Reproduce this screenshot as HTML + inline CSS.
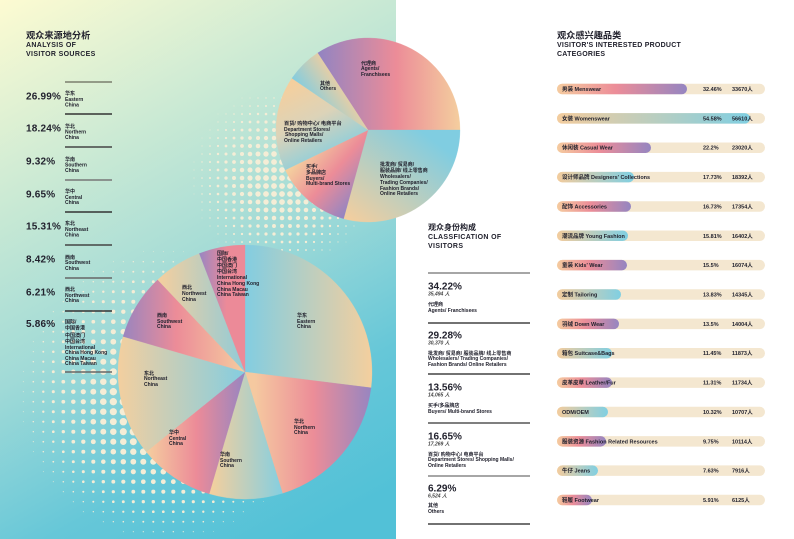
<!DOCTYPE html>
<html>
<head>
<meta charset="utf-8">
<style>
html,body{margin:0;padding:0;background:#fff;}
body{width:794px;height:539px;overflow:hidden;position:relative;}
svg{position:absolute;left:0;top:0;}
text{font-family:"Liberation Sans","Noto Sans CJK SC",sans-serif;font-weight:700;fill:#22222e;}
.t9{font-size:9.2px;}
.t8{font-size:8px;}
.sub{font-size:7px;letter-spacing:0.35px;}
.pct{font-size:10px;letter-spacing:0.2px;}
.mp{font-size:10px;}
.l5{font-size:5px;}
.l52{font-size:5.2px;}
.cnt{font-size:5px;font-style:italic;fill:#444;}
.b55{font-size:5.5px;}
</style>
</head>
<body>
<svg width="794" height="539" viewBox="0 0 794 539" xmlns="http://www.w3.org/2000/svg">
<defs>
  <linearGradient id="bg" gradientUnits="userSpaceOnUse" x1="0" y1="0" x2="300" y2="539">
    <stop offset="0" stop-color="#fdfbd2"/>
    <stop offset="0.3" stop-color="#c9e9d4"/>
    <stop offset="0.55" stop-color="#a0dad7"/>
    <stop offset="0.8" stop-color="#66c7d8"/>
    <stop offset="1" stop-color="#52c1d7"/>
  </linearGradient>
  <linearGradient id="gE" gradientUnits="userSpaceOnUse" x1="245" y1="0" x2="372" y2="0">
    <stop offset="0" stop-color="#82cde1"/><stop offset="1" stop-color="#f4cf9e"/>
  </linearGradient>
  <linearGradient id="gN" gradientUnits="userSpaceOnUse" x1="255" y1="0" x2="372" y2="0">
    <stop offset="0" stop-color="#f5c9a0"/><stop offset="0.5" stop-color="#ec8d98"/><stop offset="1" stop-color="#9685c1"/>
  </linearGradient>
  <linearGradient id="gS" gradientUnits="userSpaceOnUse" x1="212" y1="0" x2="282" y2="0">
    <stop offset="0" stop-color="#f2cf9e"/><stop offset="1" stop-color="#86cfe0"/>
  </linearGradient>
  <linearGradient id="gC" gradientUnits="userSpaceOnUse" x1="148" y1="0" x2="245" y2="0">
    <stop offset="0" stop-color="#f5cc9f"/><stop offset="0.5" stop-color="#ec8b98"/><stop offset="1" stop-color="#9785c1"/>
  </linearGradient>
  <linearGradient id="gNE" gradientUnits="userSpaceOnUse" x1="118" y1="0" x2="245" y2="0">
    <stop offset="0" stop-color="#f3cf9f"/><stop offset="1" stop-color="#84cde0"/>
  </linearGradient>
  <linearGradient id="gSW" gradientUnits="userSpaceOnUse" x1="120" y1="0" x2="245" y2="0">
    <stop offset="0" stop-color="#9584c1"/><stop offset="0.45" stop-color="#ec8c98"/><stop offset="1" stop-color="#f5cc9f"/>
  </linearGradient>
  <linearGradient id="gNW" gradientUnits="userSpaceOnUse" x1="160" y1="0" x2="245" y2="0">
    <stop offset="0" stop-color="#f3cf9f"/><stop offset="1" stop-color="#90cbd8"/>
  </linearGradient>
  <linearGradient id="gI" gradientUnits="userSpaceOnUse" x1="199" y1="0" x2="245" y2="0">
    <stop offset="0" stop-color="#9886c2"/><stop offset="0.6" stop-color="#ec8a98"/><stop offset="1" stop-color="#ec8a98"/>
  </linearGradient>
  <linearGradient id="gA" gradientUnits="userSpaceOnUse" x1="318" y1="0" x2="460" y2="0">
    <stop offset="0" stop-color="#9284c2"/><stop offset="0.55" stop-color="#ec8c98"/><stop offset="1" stop-color="#f4ce9e"/>
  </linearGradient>
  <linearGradient id="gW" gradientUnits="userSpaceOnUse" x1="420" y1="130" x2="350" y2="222">
    <stop offset="0" stop-color="#80cde1"/><stop offset="1" stop-color="#f4ce9e"/>
  </linearGradient>
  <linearGradient id="gB" gradientUnits="userSpaceOnUse" x1="290" y1="168" x2="345" y2="215">
    <stop offset="0" stop-color="#f4cf9e"/><stop offset="0.5" stop-color="#ec8c98"/><stop offset="1" stop-color="#9585c1"/>
  </linearGradient>
  <linearGradient id="gD" gradientUnits="userSpaceOnUse" x1="290" y1="85" x2="330" y2="165">
    <stop offset="0" stop-color="#f4cf9e"/><stop offset="0.45" stop-color="#dcd3b8"/><stop offset="1" stop-color="#80cde1"/>
  </linearGradient>
  <linearGradient id="gO" gradientUnits="userSpaceOnUse" x1="300" y1="92" x2="335" y2="68">
    <stop offset="0" stop-color="#80cde1"/><stop offset="1" stop-color="#f4ce9e"/>
  </linearGradient>
  <linearGradient id="bOdd" x1="0" y1="0" x2="1" y2="0">
    <stop offset="0" stop-color="#f5cb9f"/><stop offset="0.45" stop-color="#ec8d98"/><stop offset="1" stop-color="#9585c1"/>
  </linearGradient>
  <linearGradient id="bEven" x1="0" y1="0" x2="1" y2="0">
    <stop offset="0" stop-color="#f3cc9d"/><stop offset="1" stop-color="#80cfe2"/>
  </linearGradient>
</defs>

<rect x="0" y="0" width="396" height="539" fill="url(#bg)"/>

<g id="dots" fill="#f5edd6"></g>

<g stroke-width="0.3">
  <path d="M368,130 L317.6,53 A92,92 0 0 1 460,130 Z" fill="url(#gA)" stroke="url(#gA)"/>
  <path d="M368,130 L460,130 A92,92 0 0 1 343.6,218.7 Z" fill="url(#gW)" stroke="url(#gW)"/>
  <path d="M368,130 L343.6,218.7 A92,92 0 0 1 285.2,170 Z" fill="url(#gB)" stroke="url(#gB)"/>
  <path d="M368,130 L285.2,170 A92,92 0 0 1 291.9,78.3 Z" fill="url(#gD)" stroke="url(#gD)"/>
  <path d="M368,130 L291.9,78.3 A92,92 0 0 1 317.6,53 Z" fill="url(#gO)" stroke="url(#gO)"/>
</g>

<g stroke-width="0.3">
  <path d="M245,372 L245,245 A127,127 0 0 1 371,387.8 Z" fill="url(#gE)" stroke="url(#gE)"/>
  <path d="M245,372 L371,387.8 A127,127 0 0 1 282.5,493.3 Z" fill="url(#gN)" stroke="url(#gN)"/>
  <path d="M245,372 L282.5,493.3 A127,127 0 0 1 209.2,493.8 Z" fill="url(#gS)" stroke="url(#gS)"/>
  <path d="M245,372 L209.2,493.8 A127,127 0 0 1 146.2,451.8 Z" fill="url(#gC)" stroke="url(#gC)"/>
  <path d="M245,372 L146.2,451.8 A127,127 0 0 1 123.1,336.5 Z" fill="url(#gNE)" stroke="url(#gNE)"/>
  <path d="M245,372 L123.1,336.5 A127,127 0 0 1 157.7,279.8 Z" fill="url(#gSW)" stroke="url(#gSW)"/>
  <path d="M245,372 L157.7,279.8 A127,127 0 0 1 199.3,253.5 Z" fill="url(#gNW)" stroke="url(#gNW)"/>
  <path d="M245,372 L199.3,253.5 A127,127 0 0 1 245,245 Z" fill="url(#gI)" stroke="url(#gI)"/>
</g>

<text class="t9" x="26" y="38.5">观众来源地分析</text>
<text class="sub" x="26" y="46.8">ANALYSIS OF</text>
<text class="sub" x="26" y="55.8">VISITOR SOURCES</text>

<g stroke-width="1.5">
  <line x1="65" y1="82" x2="112" y2="82" stroke="#7b7f6e"/>
  <line x1="65" y1="114" x2="112" y2="114" stroke="#333"/>
  <line x1="65" y1="147" x2="112" y2="147" stroke="#444"/>
  <line x1="65" y1="180" x2="112" y2="180" stroke="#777"/>
  <line x1="65" y1="212" x2="112" y2="212" stroke="#333"/>
  <line x1="65" y1="245" x2="112" y2="245" stroke="#444"/>
  <line x1="65" y1="278" x2="112" y2="278" stroke="#666"/>
  <line x1="65" y1="311" x2="112" y2="311" stroke="#333"/>
  <line x1="65" y1="372" x2="112" y2="372" stroke="#666"/>
</g>

<text class="pct" x="26" y="99.6">26.99%</text>
<text class="l5" x="65" y="94.8">华东</text>
<text class="l5" x="65" y="100.8">Eastern</text>
<text class="l5" x="65" y="106.3">China</text>

<text class="pct" x="26" y="131.6">18.24%</text>
<text class="l5" x="65" y="127.8">华北</text>
<text class="l5" x="65" y="133.3">Northern</text>
<text class="l5" x="65" y="138.8">China</text>

<text class="pct" x="26" y="164.6">9.32%</text>
<text class="l5" x="65" y="160.8">华南</text>
<text class="l5" x="65" y="166.3">Southern</text>
<text class="l5" x="65" y="171.8">China</text>

<text class="pct" x="26" y="197.6">9.65%</text>
<text class="l5" x="65" y="192.8">华中</text>
<text class="l5" x="65" y="198.8">Central</text>
<text class="l5" x="65" y="204">China</text>

<text class="pct" x="26" y="229.6">15.31%</text>
<text class="l5" x="65" y="224.8">东北</text>
<text class="l5" x="65" y="230.8">Northeast</text>
<text class="l5" x="65" y="236.5">China</text>

<text class="pct" x="26" y="262.6">8.42%</text>
<text class="l5" x="65" y="258.8">西南</text>
<text class="l5" x="65" y="264">Southwest</text>
<text class="l5" x="65" y="269.8">China</text>

<text class="pct" x="26" y="295.6">6.21%</text>
<text class="l5" x="65" y="290.8">西北</text>
<text class="l5" x="65" y="296.8">Northwest</text>
<text class="l5" x="65" y="301.8">China</text>

<text class="pct" x="26" y="326.8">5.86%</text>
<text class="l5" x="65" y="323.5">国际/</text>
<text class="l5" x="65" y="329.5">中国香港</text>
<text class="l5" x="65" y="336.8">中国澳门</text>
<text class="l5" x="65" y="342.8">中国台湾</text>
<text class="l5" x="65" y="348.8">International</text>
<text class="l5" x="65" y="354">China Hong Kong</text>
<text class="l5" x="65" y="359.8">China Macau</text>
<text class="l5" x="65" y="364.8">China Taiwan</text>

<text class="l5" x="361" y="64.8">代理商</text>
<text class="l5" x="361" y="69.8">Agents/</text>
<text class="l5" x="361" y="75.8">Franchisees</text>

<text class="l5" x="320" y="84.8">其他</text>
<text class="l5" x="320" y="89.8">Others</text>

<text class="l52" x="284" y="124.8">百货/ 购物中心/ 电商平台</text>
<text class="l5" x="284" y="130.8">Department Stores/</text>
<text class="l5" x="285" y="135.8">Shopping Malls/</text>
<text class="l5" x="284" y="141.8">Online Retailers</text>

<text class="l5" x="380" y="165.8">批发商/ 贸易商/</text>
<text class="l5" x="380" y="171.8">服装品牌/ 线上零售商</text>
<text class="l5" x="380" y="177.8">Wholesalers/</text>
<text class="l5" x="380" y="183.8">Trading Companies/</text>
<text class="l5" x="380" y="189.8">Fashion Brands/</text>
<text class="l5" x="380" y="194.8">Online Retailers</text>

<text class="l5" x="306" y="167.8">买手/</text>
<text class="l5" x="306" y="173.8">多品牌店</text>
<text class="l5" x="306" y="179.8">Buyers/</text>
<text class="l5" x="306" y="184.8">Multi-brand Stores</text>

<text class="l5" x="217" y="254.8">国际/</text>
<text class="l5" x="217" y="260.8">中国香港</text>
<text class="l5" x="217" y="266.8">中国澳门</text>
<text class="l5" x="217" y="272.8">中国台湾</text>
<text class="l5" x="217" y="278.8">International</text>
<text class="l5" x="217" y="284.8">China Hong Kong</text>
<text class="l5" x="217" y="290.8">China Macau</text>
<text class="l5" x="217" y="295.8">China Taiwan</text>

<text class="l5" x="182" y="288.8">西北</text>
<text class="l5" x="182" y="294.8">Northwest</text>
<text class="l5" x="182" y="300.8">China</text>

<text class="l5" x="157" y="316.8">西南</text>
<text class="l5" x="157" y="322.8">Southwest</text>
<text class="l5" x="157" y="327.8">China</text>

<text class="l5" x="297" y="316.8">华东</text>
<text class="l5" x="297" y="322.8">Eastern</text>
<text class="l5" x="297" y="327.8">China</text>

<text class="l5" x="144" y="374.8">东北</text>
<text class="l5" x="144" y="379.8">Northeast</text>
<text class="l5" x="144" y="385.8">China</text>

<text class="l5" x="294" y="422.8">华北</text>
<text class="l5" x="294" y="428.8">Northern</text>
<text class="l5" x="294" y="433.8">China</text>

<text class="l5" x="169" y="433.8">华中</text>
<text class="l5" x="169" y="439.8">Central</text>
<text class="l5" x="169" y="444.8">China</text>

<text class="l5" x="220" y="455.8">华南</text>
<text class="l5" x="220" y="461.8">Southern</text>
<text class="l5" x="220" y="466.8">China</text>

<text class="t8" x="428" y="230">观众身份构成</text>
<text class="sub" x="428" y="238.8">CLASSFICATION OF</text>
<text class="sub" x="428" y="247.8">VISITORS</text>

<g stroke-width="1.5">
  <line x1="428" y1="273" x2="530" y2="273" stroke="#888"/>
  <line x1="428" y1="323" x2="530" y2="323" stroke="#444"/>
  <line x1="428" y1="374" x2="530" y2="374" stroke="#444"/>
  <line x1="428" y1="423" x2="530" y2="423" stroke="#555"/>
  <line x1="428" y1="476" x2="530" y2="476" stroke="#888"/>
  <line x1="428" y1="524" x2="530" y2="524" stroke="#444"/>
</g>

<text class="mp" x="428" y="289.6">34.22%</text>
<text class="cnt" x="428" y="295.7">35,494 人</text>
<text class="l5" x="428" y="305.9">代理商</text>
<text class="l5" x="428" y="311.8">Agents/ Franchisees</text>

<text class="mp" x="428" y="338.6">29.28%</text>
<text class="cnt" x="428" y="344.7">30,370 人</text>
<text class="l5" x="428" y="354.9">批发商/ 贸易商/ 服装品牌/ 线上零售商</text>
<text class="l5" x="428" y="359.8">Wholesalers/ Trading Companies/</text>
<text class="l5" x="428" y="365.8">Fashion Brands/ Online Retailers</text>

<text class="mp" x="428" y="390.6">13.56%</text>
<text class="cnt" x="428" y="396.7">14,065 人</text>
<text class="l5" x="428" y="406.9">买手/多品牌店</text>
<text class="l5" x="428" y="412.8">Buyers/ Multi-brand Stores</text>

<text class="mp" x="428" y="439.6">16.65%</text>
<text class="cnt" x="428" y="445.7">17,269 人</text>
<text class="l5" x="428" y="455.9">百货/ 购物中心/ 电商平台</text>
<text class="l5" x="428" y="460.8">Department Stores/ Shopping Malls/</text>
<text class="l5" x="428" y="466.8">Online Retailers</text>

<text class="mp" x="428" y="491.6">6.29%</text>
<text class="cnt" x="428" y="497.7">6,524 人</text>
<text class="l5" x="428" y="506.9">其他</text>
<text class="l5" x="428" y="512.8">Others</text>

<text class="t9" x="557" y="38.5">观众感兴趣品类</text>
<text class="sub" x="557" y="46.8" style="letter-spacing:0.25px">VISITOR'S INTERESTED PRODUCT</text>
<text class="sub" x="557" y="55.8" style="letter-spacing:0.25px">CATEGORIES</text>

<g id="bars"></g>
</svg>

<script>
(function(){
  var NS="http://www.w3.org/2000/svg";
  var dots=document.getElementById('dots');
  function field(cx,cy,R,rmax,cap,step,ox,oy,xmax,ymin,ymax,xmin){
    for(var y=oy;y<ymax;y+=step){
      if(y<ymin) continue;
      for(var x=ox;x<xmax;x+=step){
        if(x<xmin) continue;
        var d=Math.sqrt((x-cx)*(x-cx)+(y-cy)*(y-cy));
        var r=rmax*(1-d/R);
        if(r<0.35) continue;
        if(r>cap) r=cap;
        var c=document.createElementNS(NS,'circle');
        c.setAttribute('cx',x.toFixed(1));
        c.setAttribute('cy',y.toFixed(1));
        c.setAttribute('r',r.toFixed(2));
        dots.appendChild(c);
      }
    }
  }
  field(165,395,155,5.5,3.7,10,3.3,1.7,394,230,539,0);
  field(282,178,100,3.8,2.9,8,2,2,394,96,252,185);

  var bars=document.getElementById('bars');
  var data=[
    ["男装 Menswear","32.46%","33670人",687],
    ["女装 Womenswear","54.58%","56610人",750],
    ["休闲装 Casual Wear","22.2%","23020人",651],
    ["设计师品牌 Designers' Collections","17.73%","18392人",634],
    ["配饰 Accessories","16.73%","17354人",631],
    ["潮流品牌 Young Fashion","15.81%","16402人",628],
    ["童装 Kids' Wear","15.5%","16074人",627],
    ["定制 Tailoring","13.83%","14345人",621],
    ["羽绒 Down Wear","13.5%","14004人",619],
    ["箱包 Suitcase&Bags","11.45%","11873人",612],
    ["皮革皮草 Leather/Fur","11.31%","11734人",612],
    ["ODM/OEM","10.32%","10707人",608],
    ["服装资源 Fashion Related Resources","9.75%","10114人",606],
    ["牛仔 Jeans","7.63%","7916人",598],
    ["鞋履 Footwear","5.91%","6125人",592]
  ];
  function el(tag,attrs,txt){
    var e=document.createElementNS(NS,tag);
    for(var k in attrs) e.setAttribute(k,attrs[k]);
    if(txt!==undefined) e.textContent=txt;
    bars.appendChild(e);
    return e;
  }
  for(var i=0;i<data.length;i++){
    var cy=89+29.36*i;
    var h=10.5, top=cy-h/2;
    el('rect',{x:557,y:top.toFixed(2),width:208,height:h,rx:5.25,ry:5.25,fill:'#f4e7d0'});
    var w=data[i][3]-557;
    el('rect',{x:557,y:top.toFixed(2),width:w,height:h,rx:5.25,ry:5.25,fill:(i%2===0?'url(#bOdd)':'url(#bEven)')});
    el('text',{x:562,y:(cy+2).toFixed(2),'class':'b55'},data[i][0]);
    el('text',{x:703,y:(cy+2).toFixed(2),'class':'b55'},data[i][1]);
    el('text',{x:732,y:(cy+2).toFixed(2),'class':'b55'},data[i][2]);
  }
})();
</script>
</body>
</html>
